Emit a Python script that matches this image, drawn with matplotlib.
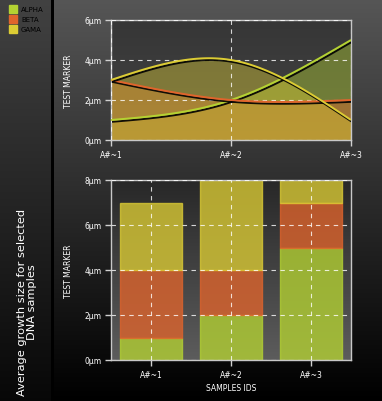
import numpy as np
import matplotlib
matplotlib.use('Agg')
import matplotlib.pyplot as plt
import matplotlib.patheffects as pe

# data
labels = ['A#~1', 'A#~2', 'A#~3']
series = ['ALPHA', 'BETA', 'GAMA']
alpha_vals = [1, 2, 5]
beta_vals = [3, 2, 2]
gama_vals = [3, 4, 1]
y_ticks_top = [0, 2, 4, 6]
y_ticks_bottom = [0, 2, 4, 6, 8]

colors = ['#b4d232', '#e0642c', '#dccc34']
W, H = 382, 402

plt.rcParams['font.family'] = ['DejaVu Sans']


def spline(ys, n=60):
    # natural cubic spline through evenly spaced points (chart smoothing)
    ys = np.asarray(ys, float)
    m = len(ys)
    A = np.zeros((m, m))
    b = np.zeros(m)
    A[0, 0] = A[-1, -1] = 1
    for i in range(1, m - 1):
        A[i, i - 1], A[i, i], A[i, i + 1] = 1, 4, 1
        b[i] = 6 * (ys[i - 1] - 2 * ys[i] + ys[i + 1])
    M = np.linalg.solve(A, b)
    xs, out = [], []
    for i in range(m - 1):
        t = np.linspace(0, 1, n)
        s = (M[i] * (1 - t) ** 3 / 6 + M[i + 1] * t ** 3 / 6
             + (ys[i] - M[i] / 6) * (1 - t) + (ys[i + 1] - M[i + 1] / 6) * t)
        xs.append(i + t)
        out.append(s)
    return np.concatenate(xs), np.concatenate(out)


fig = plt.figure(figsize=(W / 100, H / 100), dpi=100)

# background gradients
bg = fig.add_axes([0, 0, 1, 1])
bg.set_axis_off()
g = np.linspace(0, 1, H)[:, None]
img = np.zeros((H, W, 3))
main = 0x56 / 255 * (1 - g)
side = (0x42 / 255) * (1 - g) + 0.03 * g
img[:, :, :] = main[:, :, None]
img[:, :51, :] = side[:, :, None]
img[:, 51:54, :] = 0.0
bg.imshow(img, aspect='auto', extent=[0, W, H, 0])
bg.set_xlim(0, W)
bg.set_ylim(H, 0)

# legend
for i, (name, c) in enumerate(zip(series, colors)):
    y0 = 6 + i * 10
    bg.add_patch(plt.Rectangle((9, y0), 8, 8, color=c))
    bg.text(21, y0 + 4.5, name, color='black', fontsize=5, va='center', ha='left')

bg.text(27, 396, 'Average growth size for selected\nDNA samples', rotation=90,
        color='white', fontsize=8.2, ha='center', va='bottom', linespacing=0.95)


def style(ax, yt, ymax):
    ax.set_ylim(0, ymax)
    ax.set_yticks(yt)
    ax.set_yticklabels([f'{v}µm' for v in yt])
    for s in ax.spines.values():
        s.set_color('#c8c8c8')
        s.set_linewidth(1)
    ax.tick_params(colors='#d0d0d0', labelcolor='white', labelsize=5.5,
                   length=4, width=1, pad=3)
    ax.grid(True, color='white', alpha=0.8, linestyle=(0, (4, 4)), linewidth=0.8)
    ax.set_axisbelow(False)
    ax.set_ylabel('TEST MARKER', color='white', fontsize=5.5, labelpad=8)


def plot_bg(ax, top, bottom):
    gg = np.linspace(top, bottom, 100)[:, None]
    ax.imshow(np.repeat(gg[:, :, None], 3, axis=2), aspect='auto',
              extent=[ax.get_xlim()[0], ax.get_xlim()[1], ax.get_ylim()[0], ax.get_ylim()[1]],
              zorder=0)


# top: smoothed area chart
ax1 = fig.add_axes([111 / W, 1 - 141 / H, 240 / W, 120 / H])
ax1.set_xlim(0, 2)
style(ax1, y_ticks_top, 6)
plot_bg(ax1, 0x36 / 255, 0x44 / 255)
ax1.set_xticks(range(3))
ax1.set_xticklabels(labels)
for vals, c in zip([alpha_vals, beta_vals, gama_vals], colors):
    xs, ys = spline(vals)
    ax1.fill_between(xs, 0, ys, color=c, alpha=0.42, lw=0, zorder=2)
for vals, c in zip([alpha_vals, beta_vals, gama_vals], colors):
    xs, ys = spline(vals)
    ax1.plot(xs, ys, color=c, lw=1.4, zorder=3, solid_capstyle='butt',
             path_effects=[pe.SimpleLineShadow(offset=(0.7, -1.3), shadow_color='black', alpha=0.9),
                           pe.Normal()])

# bottom: stacked bars
ax2 = fig.add_axes([111 / W, 1 - 361 / H, 240 / W, 180 / H])
ax2.set_xlim(-0.5, 2.5)
style(ax2, y_ticks_bottom, 8)
plot_bg(ax2, 0x28 / 255, 0x5c / 255)
x = np.arange(len(labels))
bottom = np.zeros(len(labels))
for vals, c in zip([alpha_vals, beta_vals, gama_vals], colors):
    ax2.bar(x, vals, bottom=bottom, width=0.78, color=c, alpha=0.78,
            edgecolor=c, linewidth=1, zorder=2)
    bottom += np.array(vals)
ax2.set_xticks(x)
ax2.set_xticklabels(labels)
ax2.set_xlabel('SAMPLES IDS', color='white', fontsize=5.5, labelpad=3)

fig.savefig('out.png', dpi=100)
